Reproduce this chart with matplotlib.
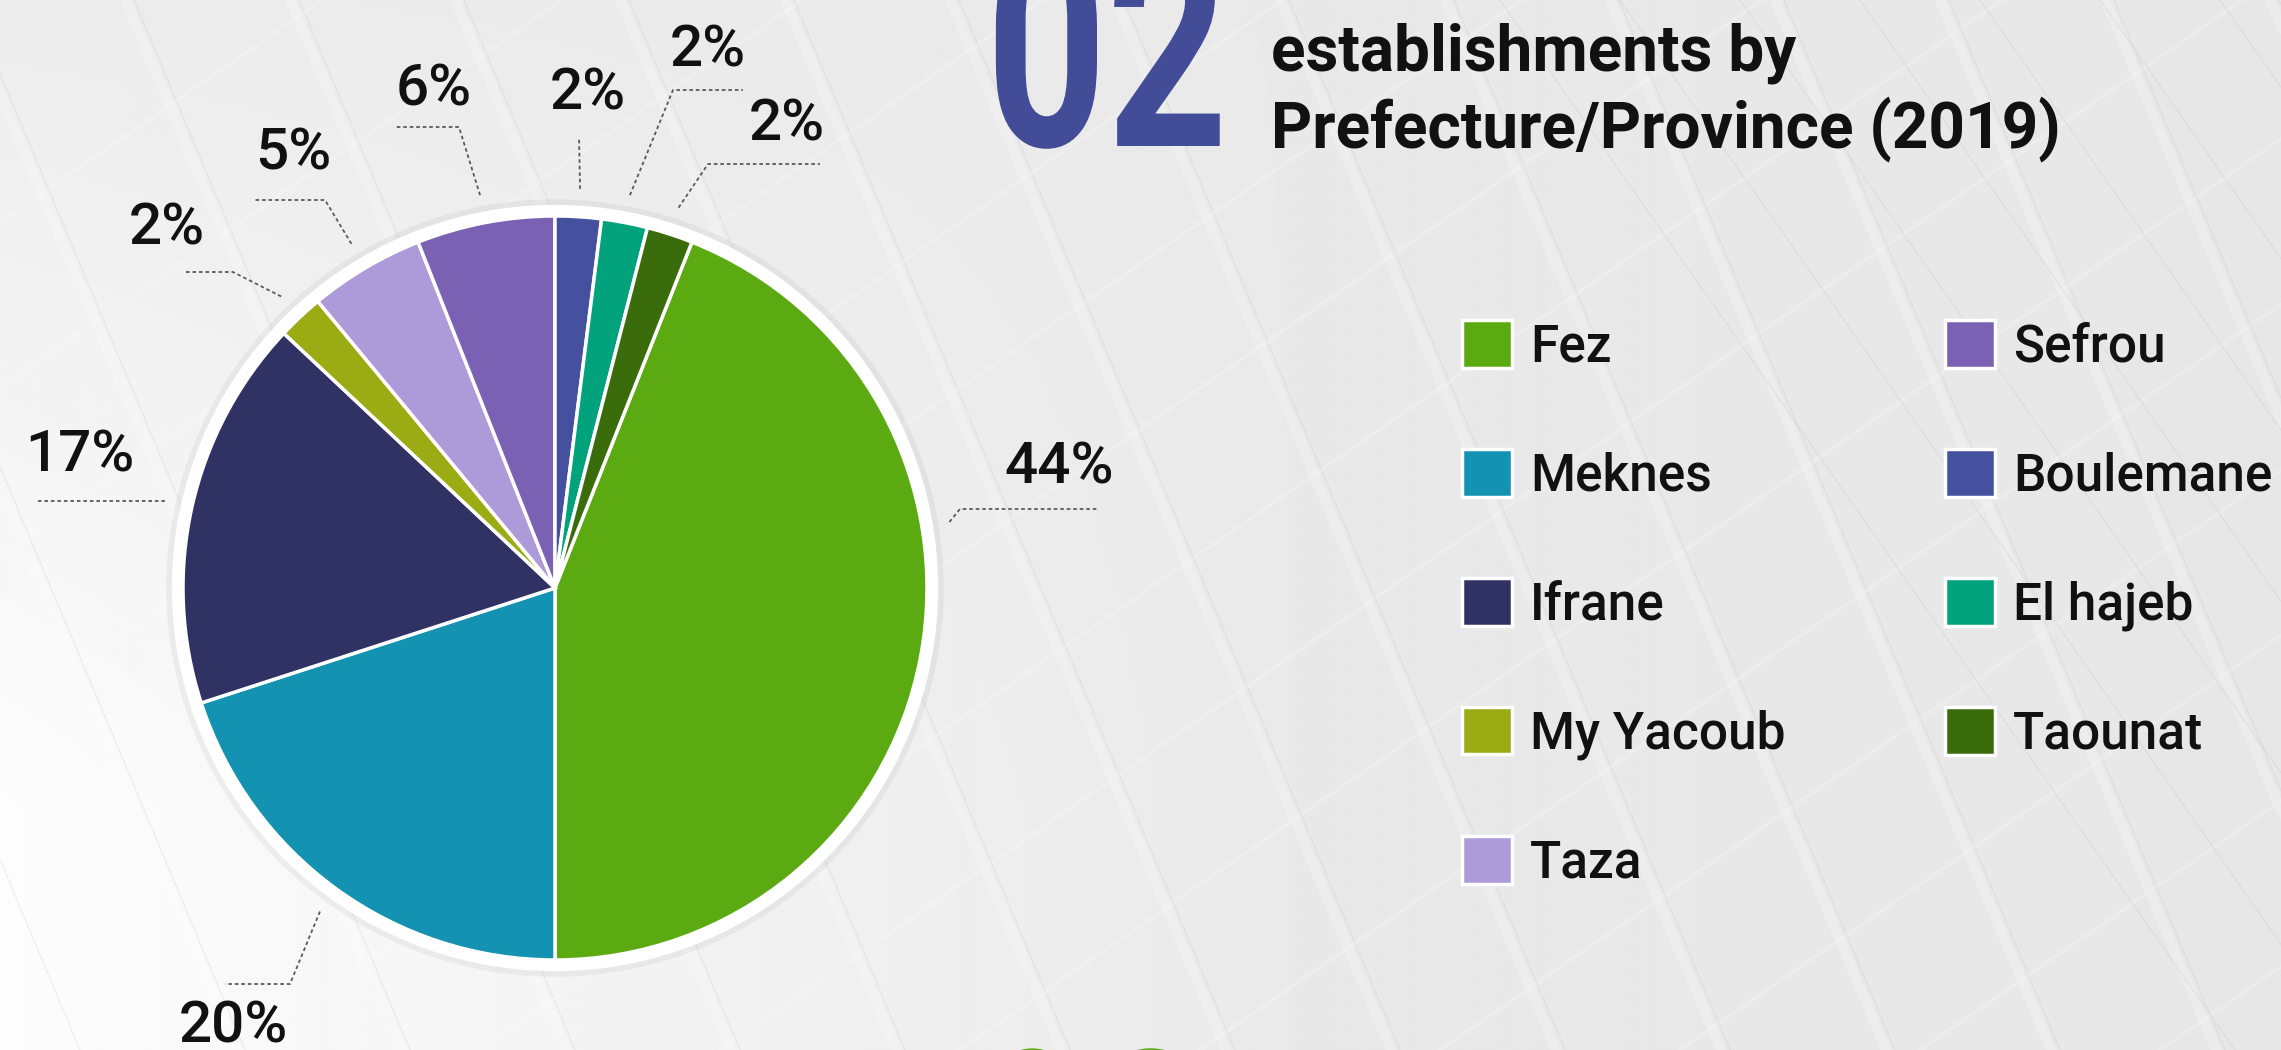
import numpy as np
import matplotlib
matplotlib.use('Agg')
import matplotlib.pyplot as plt
from matplotlib.patches import Circle
from matplotlib.patheffects import AbstractPathEffect
from matplotlib.transforms import Affine2D

# Share of establishments per prefecture / province (2019), in %
provinces = ['Fez', 'Meknes', 'Ifrane', 'My Yacoub', 'Taza',
             'Sefrou', 'Boulemane', 'El hajeb', 'Taounat']
shares = [44, 20, 17, 2, 5, 6, 2, 2, 2]
colors = ['#5caa12', '#1393b1', '#313264', '#9aab14', '#ac9ad9',
          '#7a61b4', '#45509f', '#02a27c', '#3a6c0c']

W, H = 2281, 1050
CX, CY, R = 555, 588, 372          # pie centre / radius in pixels
LIM = 1.06

# where each percentage label sits (pixels), elbow of the leader, end of the tick
label_layout = {
    'Fez':       dict(text=(1059, 468), elbow=(960, 509), end=1098, nudge=20.3),
    'Meknes':    dict(text=(233, 1027), elbow=(290, 984), end=225),
    'Ifrane':    dict(text=(80, 456), elbow=None, end=36),
    'My Yacoub': dict(text=(167, 229), elbow=(233, 272), end=185),
    'Taza':      dict(text=(293, 154), elbow=(325, 200), end=254),
    'Sefrou':    dict(text=(434, 90), elbow=(459, 127), end=394),
    'Boulemane': dict(text=(588, 94), elbow=(579, 137), end=579),
    'El hajeb':  dict(text=(708, 51), elbow=(673, 90), end=743),
    'Taounat':   dict(text=(787, 125), elbow=(708, 164), end=820),
}


class Stretch(AbstractPathEffect):
    """Scale glyph outlines about an anchor point (display pixels)."""

    def __init__(self, sx, sy, anchor):
        super().__init__()
        self.sx, self.sy, self.anchor = sx, sy, anchor

    def draw_path(self, renderer, gc, tpath, affine, rgbFace=None):
        x0, y0 = self.anchor
        extra = Affine2D().translate(-x0, -y0).scale(self.sx, self.sy).translate(x0, y0)
        renderer.draw_path(gc, tpath, affine + extra, rgbFace)


fig = plt.figure(figsize=(W / 100, H / 100), dpi=100)

# background: light grey with brighter lower-left and faint facade lines
bg = fig.add_axes([0, 0, 1, 1])
bg.set_xlim(0, W)
bg.set_ylim(H, 0)
bg.axis('off')
yy, xx = np.mgrid[0:H:3, 0:W:3]
shade = (0.905 + 0.02 * np.clip(1 - xx / W, 0, 1)
         + 0.065 * np.clip(1 - xx / 1300, 0, 1) * np.clip(yy / H * 1.3, 0, 1))
bg.imshow(shade, cmap='gray', vmin=0, vmax=1, extent=[0, W, H, 0],
          aspect='auto', interpolation='bilinear', zorder=0)
for x0 in np.arange(-700, 2500, 165):
    bg.plot([x0, x0 + 0.42 * H], [0, H], color='white', lw=7, alpha=0.22, zorder=1)
    bg.plot([x0 + 9, x0 + 9 + 0.42 * H], [0, H], color='#b8b8b8', lw=0.7, alpha=0.25, zorder=1)
for x0 in np.arange(-1200, 2600, 240):
    bg.plot([x0, x0 + 1.45 * H], [H, 0], color='white', lw=3, alpha=0.2, zorder=1)
for x0 in np.arange(1500, 3200, 120):
    bg.plot([x0, x0 + 0.7 * H], [0, H], color='#c4c4c4', lw=0.8, alpha=0.3, zorder=1)

# pie
ax = fig.add_axes([(CX - LIM * R) / W, (H - CY - LIM * R) / H,
                   2 * LIM * R / W, 2 * LIM * R / H])
ax.patch.set_alpha(0)
ax.add_patch(Circle((0, 0), 1.045, color='#9a9a9a', alpha=0.12, lw=0, zorder=0))
ax.add_patch(Circle((0, 0), 1.03, color='white', lw=0, zorder=1))
start = 90 - 3.6 * sum(shares[6:])
wedges, _ = ax.pie(shares, colors=colors, startangle=start, counterclock=False,
                   radius=1.0, wedgeprops=dict(edgecolor='white', linewidth=2.5))
for w in wedges:
    w.set_zorder(2)
ax.set_xlim(-LIM, LIM)
ax.set_ylim(-LIM, LIM)
ax.set_aspect('equal')
ax.axis('off')

# percentage labels with dotted leaders
pct_font = dict(family=['Roboto', 'DejaVu Sans'], weight='medium', fontsize=42)
for name, share, w in zip(provinces, shares, wedges):
    lay = label_layout[name]
    theta = np.deg2rad((w.theta1 + w.theta2) / 2 + lay.get('nudge', 0))
    ax_x = CX + 1.075 * R * np.cos(theta)
    ax_y = CY - 1.075 * R * np.sin(theta)
    if lay['elbow'] is None:
        xs = [ax_x, lay['end']]
        ys = [ax_y, ax_y]
    else:
        ex, ey = lay['elbow']
        xs = [ax_x, ex, lay['end']]
        ys = [ax_y, ey, ey]
    bg.plot(xs, ys, color='#5a5a5a', lw=1.3, ls=(0, (2, 1.6)), zorder=3)
    bg.text(lay['text'][0], lay['text'][1], f'{share}%', ha='center', va='center',
            color='#111111', zorder=4, **pct_font)

# heading: tall condensed section numbers
num_font = dict(family=['Roboto', 'DejaVu Sans'], weight='bold',
                fontsize=158, va='baseline', ha='left', zorder=4)
for txt, (x, y), col in [('02', (986, 146), '#434c96'),
                         ('03', (972, 1254), '#5caa12')]:
    bg.text(x, y, txt, color=col,
            path_effects=[Stretch(0.96, 1.3, (x, H - y))], **num_font)

title_font = dict(family=['Roboto', 'DejaVu Sans'], weight='bold', fontsize=46,
                  color='#111111', va='baseline', ha='left', zorder=4)
bg.text(1271, 70, 'establishments by', **title_font)
bg.text(1271, 148, 'Prefecture/Province (2019)', **title_font)

# legend in two columns
leg_font = dict(family=['Roboto', 'DejaVu Sans'], weight='medium', size=37)
leg_kw = dict(loc='upper left', frameon=False, prop=leg_font, handlelength=0.97,
              handleheight=1.05, handletextpad=0.35, labelspacing=1.49,
              borderpad=0, borderaxespad=0)
leg1 = fig.legend(wedges[:5], provinces[:5],
                  bbox_to_anchor=(1462 / W, 1 - 320 / H), **leg_kw)
leg2 = fig.legend(wedges[5:], provinces[5:],
                  bbox_to_anchor=(1945 / W, 1 - 320 / H), **leg_kw)
for leg in (leg1, leg2):
    for t in leg.get_texts():
        t.set_color('#111111')

fig.savefig('out.png', dpi=100)
